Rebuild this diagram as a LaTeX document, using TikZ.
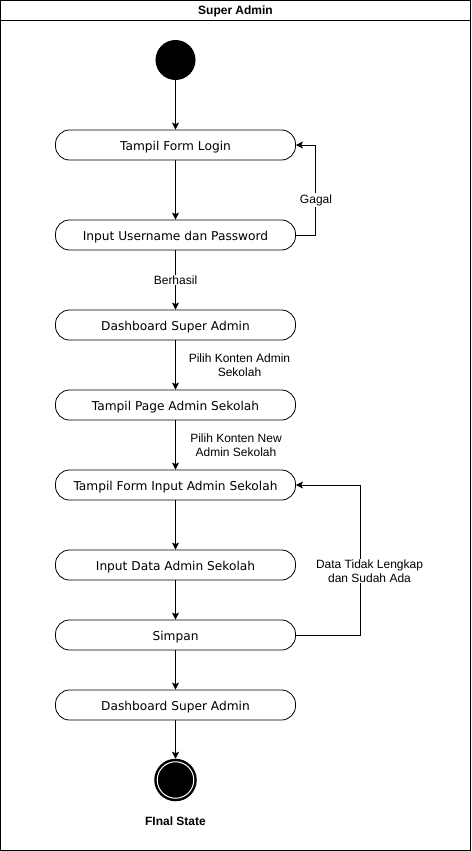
\documentclass[tikz,border=0pt]{standalone}
\usepackage{fontspec}
\setmainfont{Liberation Sans}
\newfontfamily\nodefont{DejaVu Sans}
\usetikzlibrary{arrows.meta}
\begin{document}
\begin{tikzpicture}[x=1pt,y=-1pt,
  act/.style={draw, line width=0.8pt, rounded corners=14pt, minimum width=240pt, minimum height=30pt, inner sep=0pt, text height=11pt, text depth=0pt, font=\nodefont\fontsize{12.2}{14}\selectfont, fill=white},
  flow/.style={draw, line width=1pt, -{Stealth[length=7pt,width=7pt,inset=1.5pt]}},
  lbl/.style={font=\fontsize{12}{14}\selectfont, fill=white, inner sep=1pt, align=center}]
\useasboundingbox (0,0) rectangle (471,851);
% frame
\draw[line width=1pt] (0.5,0.5) rectangle (470.5,850.5);
\draw[line width=1pt] (0.5,20.5) -- (470.5,20.5);
\node[font=\bfseries\fontsize{12}{14}\selectfont] (title) at (235.5,11) {Super Admin};
% nodes
\node[circle, fill=black, minimum size=40pt, inner sep=0pt] (start) at (175.5,60) {};
\node[act] (login) at (175.5,145) {Tampil Form Login};
\node[act] (input) at (175.5,235) {Input Username dan Password};
\node[act] (dash1) at (175.5,325) {Dashboard Super Admin};
\node[act] (page) at (175.5,405) {Tampil Page Admin Sekolah};
\node[act] (form) at (175.5,485) {Tampil Form Input Admin Sekolah};
\node[act] (data) at (175.5,565) {Input Data Admin Sekolah};
\node[act] (simpan) at (175.5,635) {Simpan};
\node[act] (dash2) at (175.5,705) {Dashboard Super Admin};
\node[circle, fill=black, draw=black, line width=2.5pt, minimum size=40pt, inner sep=0pt] (final) at (175.5,780) {};
\draw[white, line width=1pt] (final.center) circle (18.25pt);
\node[font=\bfseries\fontsize{12}{14}\selectfont] (finallbl) at (175.5,821) {FInal State};
\coordinate (g1) at (315.5,235);
\coordinate (g2) at (315.5,145);
\coordinate (d1) at (360.5,635);
\coordinate (d2) at (360.5,485);
% connectors
\draw[flow] (start) -- (login);
\draw[flow] (login) -- (input);
\draw[flow] (input) -- node[lbl] {Berhasil} (dash1);
\draw[flow] (dash1) -- (page);
\node[lbl, fill=none] (l1) at (239.5,365) {Pilih Konten Admin\\Sekolah};
\draw[flow] (page) -- (form);
\node[lbl, fill=none] (l2) at (236,445) {Pilih Konten New\\Admin Sekolah};
\draw[flow] (form) -- (data);
\draw[flow] (data) -- (simpan);
\draw[flow] (simpan) -- (dash2);
\draw[flow] (dash2) -- (final);
\draw[flow] (input.east) -- (g1) -- (g2) -- (login.east);
\node[lbl] (gagal) at (316,200) {Gagal};
\draw[flow] (simpan.east) -- (d1) -- (d2) -- (form.east);
\node[lbl] (datalbl) at (369.5,571) {Data Tidak Lengkap\\dan Sudah Ada};
\end{tikzpicture}
\end{document}
